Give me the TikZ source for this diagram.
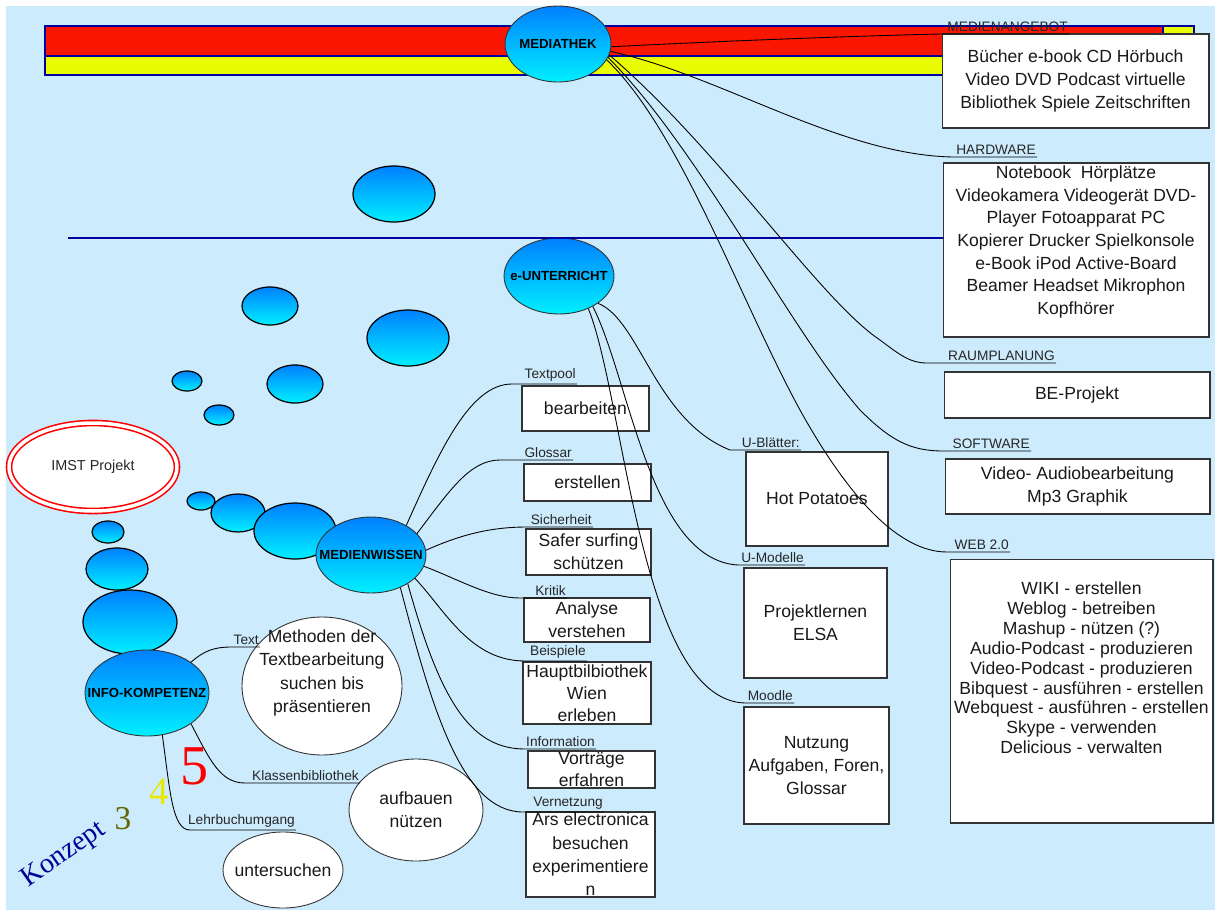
\documentclass[tikz,border=0pt]{standalone}
\usepackage{fontspec}
\setmainfont{Liberation Sans}
\newfontfamily\konzfont{Liberation Serif}
\usetikzlibrary{shapes.geometric,calc}
\definecolor{bgblue}{RGB}{204,235,252}
\definecolor{barred}{RGB}{250,22,0}
\definecolor{baryel}{RGB}{234,252,0}
\definecolor{barline}{RGB}{0,0,160}
\definecolor{bubtop}{RGB}{0,128,255}
\definecolor{bubbot}{RGB}{0,240,255}
\definecolor{konzblue}{RGB}{0,0,150}
\definecolor{olivethree}{RGB}{102,102,0}
\definecolor{yelfour}{RGB}{232,232,0}
\tikzset{
  bub/.style={draw=black, line width=0.7pt, top color=bubtop, bottom color=bubbot},
  hub/.style={ellipse, draw=black!80, line width=0.5pt, top color=bubtop, bottom color=bubbot, inner sep=0, font=\bfseries\fontsize{7.5}{9}\selectfont},
  wellipse/.style={ellipse, draw=black!80, fill=white, line width=0.5pt, inner sep=0, align=center, text=black!90, font=\fontsize{10}{12.9}\selectfont},
  infobox/.style={rectangle, draw=black!80, fill=white, line width=0.6pt, inner sep=0, align=center, text=black!90, font=\fontsize{10}{12.9}\selectfont},
  boxtxt/.style={align=center, inner sep=0, text=black!90, font=\fontsize{10}{12.9}\selectfont},
  lab/.style={inner sep=0.5pt, anchor=south east, text=black!85, font=\fontsize{7.8}{9}\selectfont},
  conn/.style={draw=black, line width=0.5pt},
  digit/.style={inner sep=0, font=\konzfont\fontsize{#1}{#1}\selectfont},
}
\begin{document}
\begin{tikzpicture}[x=0.02cm,y=-0.02cm]
\useasboundingbox (0,0) rectangle (1215,910);
\fill[white] (0,0) rectangle (1215,910);
\fill[bgblue] (6,6) rectangle (1215,910);
% coloured bars behind MEDIATHEK
\draw[barline, line width=0.6pt, fill=barred] (45,26) rectangle (1163,56);
\draw[barline, line width=0.6pt, fill=baryel] (45,56) rectangle (1163,75);
\draw[barline, line width=0.6pt, fill=baryel] (1163,26) rectangle (1194,56);
% thought bubbles
\foreach \bx/\by/\rx/\ry in {394/194/.82/.56, 270/306/.56/.38, 408/338/.82/.56, 187/381/.30/.20,
  295/384/.56/.38, 219/415/.30/.20, 201/501/.28/.18, 238/513/.54/.38, 295/531/.82/.56,
  108/532/.32/.22, 117/569/.62/.42, 130/622/.94/.64}
  \path[bub] (\bx,\by) ellipse [x radius=\rx cm, y radius=\ry cm];

% main topics
\node[hub, minimum width=2.12cm, minimum height=1.52cm] (mt) at (558,44) {\makebox[0pt]{MEDIATHEK}};
\node[hub, minimum width=2.2cm, minimum height=1.52cm] (eu) at (559,276) {\makebox[0pt]{e-UNTERRICHT}};
\node[hub, minimum width=2.2cm, minimum height=1.52cm] (mw) at (371,555) {\makebox[0pt]{MEDIENWISSEN}};
\node[hub, minimum width=2.48cm, minimum height=1.72cm] (ik) at (147,693) {\makebox[0pt]{INFO-KOMPETENZ}};
\node[ellipse, draw=red, double=white, double distance=2pt, line width=0.9pt, fill=white, inner sep=0,
  minimum width=3.36cm, minimum height=1.76cm, font=\fontsize{8.2}{10}\selectfont, text=black!85] (imst) at (93,467) {IMST Projekt};

% MEDIATHEK boxes
\node[infobox, minimum width=5.34cm, minimum height=1.88cm] (ma) at (1075.5,81)
  {Bücher e-book CD Hörbuch\\Video DVD Podcast virtuelle\\Bibliothek Spiele Zeitschriften};
\node[infobox, minimum width=5.32cm, minimum height=3.48cm] (hw) at (1076,250) {};
\node[boxtxt] (hwtxt) at (1076,242) {Notebook\ \ Hörplätze\\Videokamera Videogerät DVD-\\Player Fotoapparat PC\\
  Kopierer Drucker Spielkonsole\\e-Book iPod Active-Board\\Beamer Headset Mikrophon\\Kopfhörer};
\node[infobox, minimum width=5.32cm, minimum height=0.92cm] (rp) at (1077,395) {BE-Projekt};
\node[infobox, minimum width=5.30cm, minimum height=1.10cm] (sw) at (1077.5,486.5) {Video- Audiobearbeitung\\Mp3 Graphik};
\node[infobox, minimum width=5.26cm, minimum height=5.28cm] (web) at (1081.5,691) {};
\node[boxtxt, font=\fontsize{10}{11.3}\selectfont] (webtxt) at (1081.5,668) {WIKI - erstellen\\Weblog - betreiben\\
  Mashup - nützen (?)\\Audio-Podcast - produzieren\\Video-Podcast - produzieren\\Bibquest - ausführen - erstellen\\
  Webquest - ausführen - erstellen\\Skype - verwenden\\Delicious - verwalten};

% e-UNTERRICHT boxes
\node[infobox, minimum width=2.84cm, minimum height=1.88cm] (hp) at (817,499) {Hot Potatoes};
\node[infobox, minimum width=2.86cm, minimum height=2.20cm] (um) at (815.5,623) {Projektlernen\\ELSA};
\node[infobox, minimum width=2.90cm, minimum height=2.34cm] (mo) at (816.5,765.5) {Nutzung\\Aufgaben, Foren,\\Glossar};

% MEDIENWISSEN boxes
\node[infobox, minimum width=2.54cm, minimum height=0.90cm] (tp) at (585.5,408.5) {bearbeiten};
\node[infobox, minimum width=2.54cm, minimum height=0.74cm] (gl) at (587.5,482.5) {erstellen};
\node[infobox, minimum width=2.50cm, minimum height=0.92cm] (si) at (588.5,552) {Safer surfing\\schützen};
\node[infobox, minimum width=2.52cm, minimum height=0.88cm] (kr) at (587,620) {Analyse\\verstehen};
\node[infobox, minimum width=2.56cm, minimum height=1.24cm, font=\fontsize{10}{12.5}\selectfont] (bs) at (587,693) {Hauptbilbiothek\\Wien\\erleben};
\node[infobox, minimum width=2.54cm, minimum height=0.74cm] (inf) at (591.5,769.5) {Vorträge\\erfahren};
\node[infobox, minimum width=2.58cm, minimum height=1.70cm, font=\fontsize{10}{13.3}\selectfont] (vn) at (590.5,854.5) {Ars electronica\\besuchen\\experimentiere\\n};

% INFO-KOMPETENZ ellipses
\node[wellipse, minimum width=3.2cm, minimum height=2.76cm] (tb) at (322,686) {};
\node[boxtxt, font=\fontsize{10}{13.3}\selectfont] (tbtxt) at (322,673) {Methoden der\\Textbearbeitung\\suchen bis\\präsentieren};
\node[wellipse, minimum width=2.68cm, minimum height=2.04cm] (ab) at (416,810) {aufbauen\\nützen};
\node[wellipse, minimum width=2.4cm, minimum height=1.52cm] (us) at (283,870) {\makebox[0pt]{untersuchen}};

% branch labels
\foreach \n/\x/\y/\t in {ma/1069/34/MEDIENANGEBOT, hw/1037/157/HARDWARE, rp/1056/363/RAUMPLANUNG,
  sw/1031/451/SOFTWARE, web/1010/552/WEB 2.0, tp/577/384/Textpool, gl/573/460/Glossar,
  si/593/527/Sicherheit, kr/567/598/Kritik, bs/587/661/Beispiele, inf/596/749/Information,
  vn/604/812/Vernetzung, hp/801/450/U-Blätter:, um/805/565/U-Modelle, mo/794/703/Moodle,
  tb/260/647/Text, ab/360/783/Klassenbibliothek, us/296/830/Lehrbuchumgang}
  \node[lab] (l\n) at (\x,\y-1) {\t};
\foreach \n/\x/\y in {ma/941/34, hw/953/157, rp/927/363, sw/943/451, web/947/552,
  tp/512/384, gl/500/460, si/527/527, kr/520/598, bs/525/661, inf/525/749, vn/523/812,
  hp/730/450, um/738/565, mo/745/703, tb/232/647, ab/245/783, us/190/830}
  \coordinate (j\n) at (\x,\y);

% connectors
\coordinate (bl) at (68,238);
\draw[barline, line width=0.8pt] (bl) -- (bl -| hw.west);
\draw[conn] (mt.-3) .. controls (700,42) and (850,36) .. (jma) -- (jma -| lma.east);
\draw[conn] (mt.-8) .. controls (720,75) and (840,155) .. (jhw) -- (jhw -| lhw.east);
\draw[conn] (mt.-12) .. controls (720,150) and (820,300) .. (880,340) .. controls (900,355) and (910,363) .. (jrp) -- (jrp -| lrp.east);
\draw[conn] (mt.-15) .. controls (700,150) and (790,330) .. (860,410) .. controls (890,440) and (910,451) .. (jsw) -- (jsw -| lsw.east);
\draw[conn] (mt.-18) .. controls (680,130) and (740,300) .. (800,410) .. controls (850,500) and (900,552) .. (jweb) -- (jweb -| lweb.east);
\draw[conn] (eu.-35) .. controls (640,320) and (655,420) .. (jhp) -- (jhp -| lhp.east);
\draw[conn] (eu.-42) .. controls (630,380) and (650,560) .. (jum) -- (jum -| lum.east);
\draw[conn] (eu.-48) .. controls (625,400) and (640,700) .. (jmo) -- (jmo -| lmo.east);
\draw[conn] (mw.40) .. controls (440,450) and (470,384) .. (jtp) -- (jtp -| ltp.east);
\draw[conn] (mw.25) .. controls (450,490) and (470,460) .. (jgl) -- (jgl -| lgl.east);
\draw[conn] (mw.5) .. controls (460,535) and (490,527) .. (jsi) -- (jsi -| lsi.east);
\draw[conn] (mw.-12) .. controls (460,580) and (490,598) .. (jkr) -- (jkr -| lkr.east);
\draw[conn] (mw.-28) .. controls (445,610) and (470,661) .. (jbs) -- (jbs -| lbs.east);
\draw[conn] (mw.-38) .. controls (440,700) and (470,749) .. (jinf) -- (jinf -| linf.east);
\draw[conn] (mw.-48) .. controls (430,700) and (460,812) .. (jvn) -- (jvn -| lvn.east);
\draw[conn] (ik.35) .. controls (205,650) and (215,647) .. (jtb) -- (jtb -| ltb.east);
\draw[conn] (ik.-35) .. controls (210,760) and (220,783) .. (jab) -- (jab -| lab.east);
\draw[conn] (ik.-70) .. controls (170,790) and (172,830) .. (jus) -- (jus -| lus.east);

% Konzept 3 4 5
\node[inner sep=0, rotate=35, text=konzblue, font=\konzfont\fontsize{16}{18}\selectfont] (konz) at (64,855) {Konzept};
\node[digit=19, text=olivethree] (nthree) at (123,819) {3};
\node[digit=22, text=yelfour] (nfour) at (159,792) {4};
\node[digit=32, text=red] (nfive) at (195,766) {5};
\end{tikzpicture}
\end{document}
